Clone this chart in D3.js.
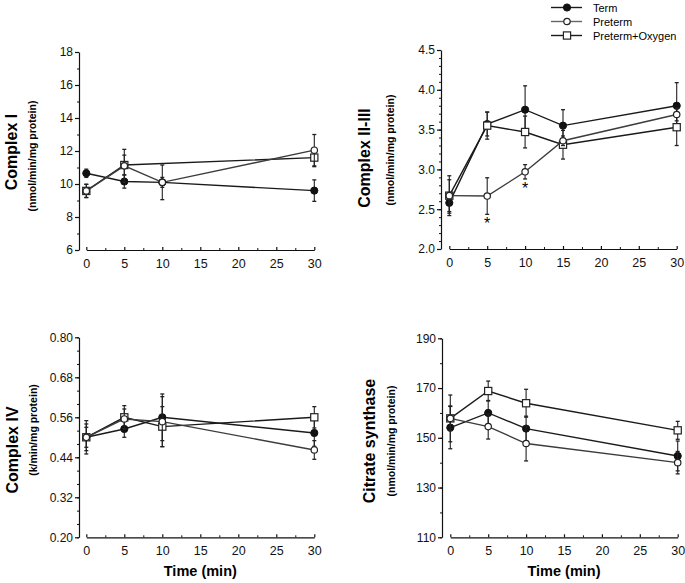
<!DOCTYPE html>
<html>
<head>
<meta charset="utf-8">
<script src="https://cdn.jsdelivr.net/npm/d3@7"></script>
<style>
  body { margin: 0; background: #fff; }
  svg { font-family: "Liberation Sans", Arial, sans-serif; }
</style>
</head>
<body>
<div id="chart"></div>
<script>
// Series names shown in the legend
const seriesNames = ["Term", "Preterm", "Preterm+Oxygen"];

// Complex I
const c1Time = [0, 5, 10, 30];
const c1Term = [10.65, 10.15, 10.1, 9.6];
const c1TermErr = [0.25, 0.4, 0.3, 0.65];
const c1Pre = [9.58, 11.1, 10.1, 12.05];
const c1PreErr = [0.4, 1.0, 1.05, 0.95];
const c1Oxy = [9.58, 11.15, null, 11.6];
const c1OxyErr = [0.4, 0.6, null, 0.55];

// Complex II-III
const c23Time = [0, 5, 10, 15, 30];
const c23Term = [2.58, 3.57, 3.75, 3.55, 3.80];
const c23TermErr = [0.13, 0.15, 0.3, 0.2, 0.29];
const c23Pre = [2.67, 2.665, 2.97, 3.36, 3.69];
const c23PreErr = [0.25, 0.23, 0.09, 0.06, 0.08];
const c23Oxy = [2.67, 3.55, 3.47, 3.31, 3.53];
const c23OxyErr = [0.2, 0.17, 0.2, 0.18, 0.23];
const c23Star = [5, 10]; // significant points (Preterm)

// Complex IV
const c4Time = [0, 5, 10, 30];
const c4Term = [0.50, 0.525, 0.56, 0.513];
const c4TermErr = [0.03, 0.025, 0.07, 0.04];
const c4Pre = [0.50, 0.555, 0.547, 0.462];
const c4PreErr = [0.05, 0.03, 0.075, 0.028];
const c4Oxy = [0.50, 0.56, 0.532, 0.56];
const c4OxyErr = [0.04, 0.035, 0.06, 0.032];

// Citrate synthase
const csTime = [0, 5, 10, 30];
const csTerm = [154.1, 160.0, 153.7, 142.7];
const csTermErr = [8.5, 5, 5, 6];
const csPre = [157.8, 154.5, 147.7, 140.0];
const csPreErr = [9.4, 5, 7, 4.5];
const csOxy = [157.8, 168.8, 163.9, 153.0];
const csOxyErr = [5, 4, 5.6, 3.6];

// tick values
const xTicks = [0, 5, 10, 15, 20, 25, 30];
const c1Ticks = [6, 8, 10, 12, 14, 16, 18];
const c23Ticks = [2.0, 2.5, 3.0, 3.5, 4.0, 4.5];
const c4Ticks = [0.20, 0.32, 0.44, 0.56, 0.68, 0.80];
const csTicks = [110, 130, 150, 170, 190];

const width = 685, height = 583;

const svg = d3.select("#chart")
    .append("svg")
    .attr("width", width)
    .attr("height", height)
    .style("background", "#fff");

// styles per series: Term, Preterm, Preterm+Oxygen
const lineColor = ["#1a1a1a", "#3c3c3c", "#1a1a1a"];
const legendColor = ["#1a1a1a", "#666", "#1a1a1a"];

function marker(g, kind, x, y) {
    if (kind === 0) {
        g.append("circle").attr("cx", x).attr("cy", y).attr("r", 3.6)
            .attr("fill", "#111").attr("stroke", "#111");
    } else if (kind === 1) {
        g.append("circle").attr("cx", x).attr("cy", y).attr("r", 3.2)
            .attr("fill", "#fff").attr("stroke", "#222").attr("stroke-width", 1.2);
    } else {
        g.append("rect").attr("x", x - 3.6).attr("y", y - 3.6)
            .attr("width", 7.2).attr("height", 7.2)
            .attr("fill", "#fff").attr("stroke", "#222").attr("stroke-width", 1.2);
    }
}

function drawPanel(p) {
    const g = svg.append("g");

    const x = d3.scaleLinear().domain([0, 30]).range([p.x0, p.x1]);
    const y = d3.scaleLinear().domain(p.yDomain).range([p.yb, p.yt]);

    // y axis, major ticks with labels
    g.append("g")
        .attr("transform", `translate(${p.ax},0)`)
        .call(d3.axisLeft(y).tickValues(p.yTicks).tickFormat(p.fmt)
            .tickSizeInner(4).tickSizeOuter(0).tickPadding(2))
        .call(a => a.selectAll("text").attr("font-size", 12).attr("fill", "#111")
            .attr("font-family", "Liberation Sans, Arial, sans-serif"))
        .call(a => a.selectAll("line, path").attr("stroke", "#111").attr("stroke-width", 1.2));

    // y minor ticks
    g.append("g")
        .attr("transform", `translate(${p.ax},0)`)
        .call(d3.axisLeft(y).tickValues(d3.range(p.yDomain[0], p.yDomain[1] + 1e-9, p.yMinor))
            .tickFormat("").tickSizeInner(2).tickSizeOuter(0))
        .call(a => a.select("path").remove())
        .call(a => a.selectAll("line").attr("stroke", "#111"));

    // x axis (ticks point up)
    g.append("g")
        .attr("transform", `translate(0,${p.yb})`)
        .call(d3.axisBottom(x).tickValues(xTicks).tickFormat(d3.format("d"))
            .tickSizeInner(-3).tickSizeOuter(0).tickPadding(9))
        .call(a => a.selectAll("text").attr("font-size", 12.5).attr("fill", "#111")
            .attr("font-family", "Liberation Sans, Arial, sans-serif"))
        .call(a => a.selectAll("line, path").attr("stroke", "#111").attr("stroke-width", 1.2));

    g.append("g")
        .attr("transform", `translate(0,${p.yb})`)
        .call(d3.axisBottom(x).tickValues(d3.range(2.5, 30, 5))
            .tickFormat("").tickSizeInner(-2).tickSizeOuter(0))
        .call(a => a.select("path").remove())
        .call(a => a.selectAll("line").attr("stroke", "#111"));

    // titles
    g.append("text")
        .attr("transform", `translate(${p.tx},${p.ty}) rotate(-90)`)
        .attr("text-anchor", "middle")
        .attr("font-size", 16).attr("font-weight", "bold")
        .text(p.title);
    g.append("text")
        .attr("transform", `translate(${p.sx},${p.sy}) rotate(-90)`)
        .attr("text-anchor", "middle")
        .attr("font-size", 10.5).attr("font-weight", "bold")
        .text(p.unit);

    if (p.xTitle) {
        g.append("text")
            .attr("x", (p.x0 + p.x1) / 2)
            .attr("y", p.yb + 39)
            .attr("text-anchor", "middle")
            .attr("font-size", 14.5).attr("font-weight", "bold")
            .text("Time (min)");
    }

    // series: draw Term, Oxygen, Preterm so open circles sit on top
    const order = [0, 2, 1];
    order.forEach(k => {
        const s = p.series[k];
        const pts = p.time.map((t, i) => ({ t: t, v: s.v[i], e: s.e[i] }))
            .filter(d => d.v != null);

        const line = d3.line().x(d => x(d.t)).y(d => y(d.v));
        g.append("path")
            .datum(pts)
            .attr("d", line)
            .attr("fill", "none")
            .attr("stroke", lineColor[k])
            .attr("stroke-width", 1.4);

        pts.forEach(d => {
            const cx = x(d.t);
            g.append("line")
                .attr("x1", cx).attr("x2", cx)
                .attr("y1", y(d.v - d.e)).attr("y2", y(d.v + d.e))
                .attr("stroke", "#222").attr("stroke-width", 1.1);
            [d.v - d.e, d.v + d.e].forEach(v => {
                g.append("line")
                    .attr("x1", cx - 2).attr("x2", cx + 2)
                    .attr("y1", y(v)).attr("y2", y(v))
                    .attr("stroke", "#222").attr("stroke-width", 1.3);
            });
        });
        pts.forEach(d => marker(g, k, x(d.t), y(d.v)));
    });

    if (p.stars) {
        p.stars.forEach(t => {
            const i = p.time.indexOf(t);
            const s = p.series[1];
            g.append("text")
                .attr("x", x(t))
                .attr("y", y(s.v[i] - s.e[i]) + 15)
                .attr("text-anchor", "middle")
                .attr("font-size", 16)
                .text("*");
        });
    }
}

drawPanel({
    title: "Complex I", unit: "(nmol/min/mg protein)",
    time: c1Time, yDomain: [6, 18], yTicks: c1Ticks, yMinor: 1, fmt: d3.format("d"),
    ax: 79, x0: 86.3, x1: 314.3, yb: 250, yt: 52,
    tx: 17, ty: 152, sx: 36, sy: 156,
    series: [{ v: c1Term, e: c1TermErr }, { v: c1Pre, e: c1PreErr }, { v: c1Oxy, e: c1OxyErr }]
});

drawPanel({
    title: "Complex II-III", unit: "(nmol/min/mg protein)",
    time: c23Time, yDomain: [2, 4.5], yTicks: c23Ticks, yMinor: 0.1, fmt: d3.format(".1f"),
    ax: 441, x0: 449.3, x1: 676.7, yb: 249, yt: 50,
    tx: 370, ty: 158, sx: 394, sy: 150, stars: c23Star,
    series: [{ v: c23Term, e: c23TermErr }, { v: c23Pre, e: c23PreErr }, { v: c23Oxy, e: c23OxyErr }]
});

drawPanel({
    title: "Complex IV", unit: "(k/min/mg protein)",
    time: c4Time, yDomain: [0.2, 0.8], yTicks: c4Ticks, yMinor: 0.04, fmt: d3.format(".2f"),
    ax: 79, x0: 86.3, x1: 314.3, yb: 537.3, yt: 337.3, xTitle: true,
    tx: 18, ty: 450, sx: 37, sy: 430,
    series: [{ v: c4Term, e: c4TermErr }, { v: c4Pre, e: c4PreErr }, { v: c4Oxy, e: c4OxyErr }]
});

drawPanel({
    title: "Citrate synthase", unit: "(nmol/min/mg protein)",
    time: csTime, yDomain: [110, 190], yTicks: csTicks, yMinor: 10, fmt: d3.format("d"),
    ax: 442, x0: 450.3, x1: 677.7, yb: 537.3, yt: 338.3, xTitle: true,
    tx: 375, ty: 441, sx: 395, sy: 441,
    series: [{ v: csTerm, e: csTermErr }, { v: csPre, e: csPreErr }, { v: csOxy, e: csOxyErr }]
});

// legend
const legend = svg.selectAll(".legend")
    .data(seriesNames)
    .enter().append("g")
    .attr("class", "legend")
    .attr("transform", (d, i) => `translate(551,${7.5 + i * 14})`);

legend.append("line")
    .attr("x1", 0).attr("x2", 31)
    .attr("stroke", (d, i) => legendColor[i])
    .attr("stroke-width", 1.4);

legend.each(function(d, i) { marker(d3.select(this), i, 16, 0); });

legend.append("text")
    .attr("x", 42)
    .attr("y", 4)
    .attr("font-size", 11)
    .text(d => d);
</script>
</body>
</html>
